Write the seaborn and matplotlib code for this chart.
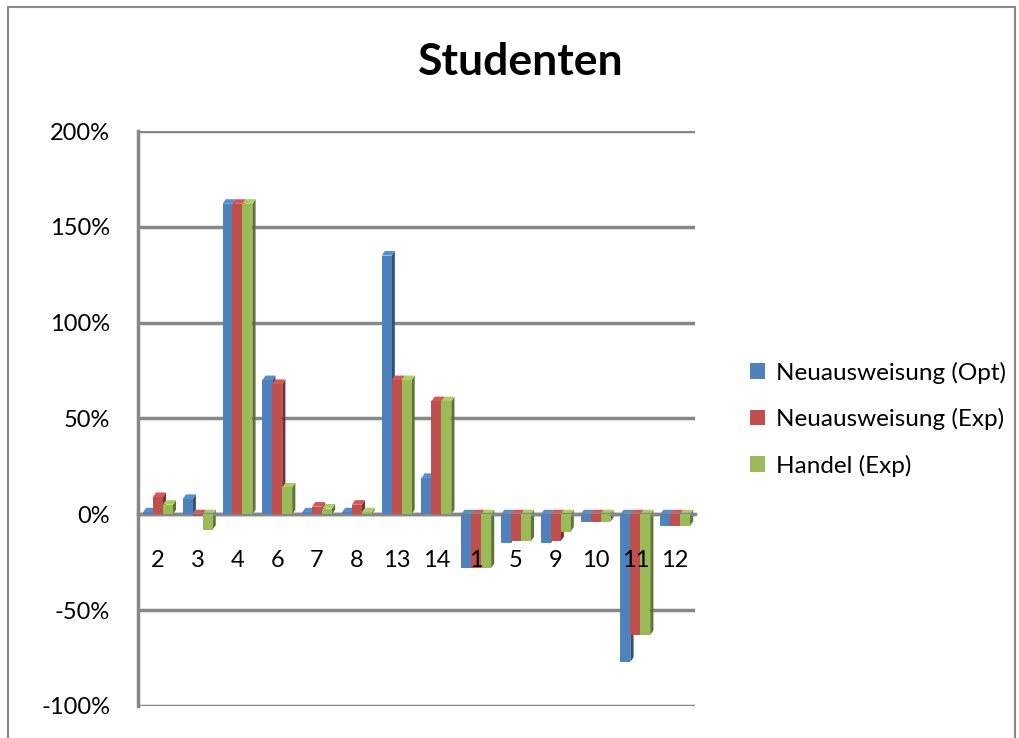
import numpy as np
import pandas as pd
import matplotlib.pyplot as plt
import matplotlib.colors as mcolors
from matplotlib.patches import Polygon, Rectangle
import seaborn as sns

# ── Daten ──────────────────────────────────────────────────────────
kategorien = ["2", "3", "4", "6", "7", "8", "13", "14", "1", "5", "9", "10", "11", "12"]
neu_opt = [1, 8, 162, 70, 1, 1, 135, 19, -28, -15, -15, -4, -77, -6]
neu_exp = [9, -1, 162, 68, 4, 5, 70, 59, -28, -14, -14, -4, -63, -6]
handel_exp = [5, -8, 162, 14, 3, 1, 70, 59, -28, -14, -9, -4, -63, -6]
serien = ["Neuausweisung (Opt)", "Neuausweisung (Exp)", "Handel (Exp)"]
farben = ["#4F81BD", "#C0504D", "#9BBB59"]

df = pd.DataFrame({
    "kat": kategorien * 3,
    "wert": neu_opt + neu_exp + handel_exp,
    "serie": np.repeat(serien, len(kategorien)),
})

# ── Stil ───────────────────────────────────────────────────────────
sns.set_style("white")
plt.rcParams.update({
    "font.family": ["Lato", "DejaVu Sans"],
    "text.color": "black",
    "xtick.color": "black",
    "ytick.color": "black",
})
GRAU = "#878787"

fig = plt.figure(figsize=(10.19, 7.38), dpi=100)
ax = fig.add_axes([138 / 1019, 1 - 706 / 738, 557 / 1019, 575 / 738])

sns.barplot(data=df, x="kat", y="wert", hue="serie", order=kategorien,
            hue_order=serien, palette=farben, width=0.75, saturation=1,
            linewidth=0, errorbar=None, ax=ax, zorder=3)

# 3D-Andeutung: Seiten- und Deckflächen
dx, dy = 0.08, 2.4
for patch in list(ax.patches):
    x, y0 = patch.get_x(), patch.get_y()
    w, h = patch.get_width(), patch.get_height()
    if w == 0:
        continue
    fc = np.array(mcolors.to_rgb(patch.get_facecolor()))
    top = y0 + h if h >= 0 else y0
    unten = y0 if h >= 0 else y0 + h
    seite = Polygon([(x + w, unten), (x + w, top), (x + w + dx, top + dy),
                     (x + w + dx, unten + dy)], closed=True,
                    facecolor=fc * 0.62, edgecolor="none", zorder=2)
    ax.add_patch(seite)
    deck = Polygon([(x, top), (x + w, top), (x + w + dx, top + dy), (x + dx, top + dy)],
                   closed=True, facecolor=np.clip(fc * 1.1, 0, 1), edgecolor="none", zorder=2)
    ax.add_patch(deck)

ax.set_xlim(-0.5, len(kategorien) - 0.5)
ax.set_ylim(-100, 200)
ax.set_yticks([-100, -50, 0, 50, 100, 150, 200])
ax.set_yticklabels([f"{v}%" for v in [-100, -50, 0, 50, 100, 150, 200]], fontsize=17)
ax.yaxis.grid(True, color=GRAU, linewidth=2.5)
ax.set_axisbelow(True)
ax.xaxis.set_zorder(5)  # Kategorien über den Balken
ax.tick_params(axis="y", length=0, pad=20)
ax.tick_params(axis="x", length=0, pad=26, labelsize=17)

for s in ["top", "right"]:
    ax.spines[s].set_visible(False)
ax.spines["left"].set_color(GRAU)
ax.spines["left"].set_linewidth(2.5)
ax.spines["bottom"].set_position(("data", 0))
ax.spines["bottom"].set_color(GRAU)
ax.spines["bottom"].set_linewidth(2.5)
ax.set_xlabel("")
ax.set_ylabel("")

fig.text(0.511, 1 - 62 / 738, "Studenten", ha="center", va="center",
         fontsize=32, fontweight="bold", color="black")

leg = ax.legend(loc="center left", bbox_to_anchor=(1.06, 0.499), frameon=False,
                fontsize=17.5, handlelength=0.6, handleheight=0.6,
                handletextpad=0.45, labelspacing=1.0)

# Rahmen des Diagramms
fig.add_artist(Rectangle((8 / 1019, -0.01), 1007 / 1019, 1.0, transform=fig.transFigure,
                         fill=False, edgecolor=GRAU, linewidth=1.5))

fig.savefig("out.png", dpi=100)
